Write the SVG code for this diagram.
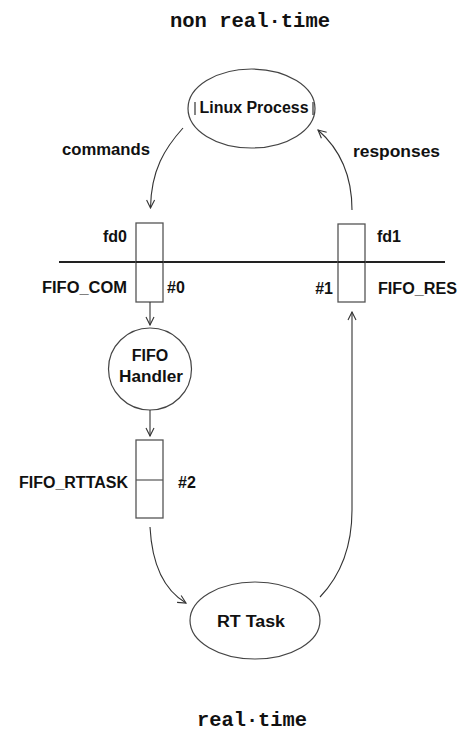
<svg xmlns="http://www.w3.org/2000/svg" width="462" height="731" viewBox="0 0 462 731">
<style>
.mono{font-family:"Liberation Mono","DejaVu Sans Mono",monospace;font-weight:bold;font-size:20px;fill:#111}
.lbl{font-family:"Liberation Sans",Arial,sans-serif;font-weight:bold;font-size:16px;fill:#111}
.node{fill:#fff;stroke:#444;stroke-width:1.2}
.box{fill:#fff;stroke:#555;stroke-width:1.3}
.conn{fill:none;stroke:#333;stroke-width:1.1}
</style>
<defs>
<marker id="arr" viewBox="0 0 10 10" refX="9" refY="5" markerWidth="10" markerHeight="10" markerUnits="userSpaceOnUse" orient="auto">
<path d="M1,1 L9,5 L1,9" fill="none" stroke="#333" stroke-width="1.1"/>
</marker>
</defs>
<rect width="462" height="731" fill="#fff"/>
<text class="mono" x="170" y="27" textLength="160" lengthAdjust="spacingAndGlyphs">non real·time</text>
<text class="mono" x="197" y="726" textLength="110" lengthAdjust="spacingAndGlyphs">real·time</text>

<g id="boundary">
<line x1="59" y1="262" x2="445" y2="262" stroke="#222" stroke-width="2"/>
</g>

<g id="linux-process">
<ellipse class="node" cx="251.5" cy="108.5" rx="63.5" ry="39.5"/>
<line x1="195" y1="102" x2="195" y2="115" stroke="#333" stroke-width="1.2"/>
<line x1="313" y1="102" x2="313" y2="115" stroke="#333" stroke-width="1.2"/>
<text class="lbl" x="254" y="113" text-anchor="middle" textLength="109" lengthAdjust="spacingAndGlyphs">Linux Process</text>
</g>

<g id="fifo-com">
<rect class="box" x="136" y="223" width="27" height="79"/>
<line x1="136" y1="262" x2="163" y2="262" stroke="#222" stroke-width="2"/>
<text class="lbl" x="127" y="242" text-anchor="end">fd0</text>
<text class="lbl" x="127" y="293" text-anchor="end" textLength="85" lengthAdjust="spacingAndGlyphs">FIFO_COM</text>
<text class="lbl" x="167" y="293">#0</text>
</g>

<g id="fifo-res">
<rect class="box" x="338" y="224" width="27" height="78"/>
<line x1="338" y1="262" x2="365" y2="262" stroke="#222" stroke-width="2"/>
<text class="lbl" x="377" y="242">fd1</text>
<text class="lbl" x="333" y="294" text-anchor="end">#1</text>
<text class="lbl" x="378" y="294" textLength="79" lengthAdjust="spacingAndGlyphs">FIFO_RES</text>
</g>

<g id="fifo-handler">
<ellipse class="node" cx="150" cy="369" rx="41.5" ry="41"/>
<text class="lbl" x="150" y="361" text-anchor="middle">FIFO</text>
<text class="lbl" x="151" y="382" text-anchor="middle" textLength="64" lengthAdjust="spacingAndGlyphs">Handler</text>
</g>

<g id="fifo-rttask">
<rect class="box" x="136" y="440" width="27" height="78"/>
<line x1="136" y1="480" x2="163" y2="480" stroke="#555" stroke-width="1.2"/>
<text class="lbl" x="128" y="488" text-anchor="end">FIFO_RTTASK</text>
<text class="lbl" x="178" y="488">#2</text>
</g>

<g id="rt-task">
<ellipse class="node" cx="255" cy="620.5" rx="65" ry="38.5"/>
<text class="lbl" x="251" y="627" text-anchor="middle" textLength="68" lengthAdjust="spacingAndGlyphs">RT Task</text>
</g>

<g id="connectors">
<path class="conn" d="M183,128 C165,148 151,170 150.5,208" marker-end="url(#arr)"/>
<path class="conn" d="M352,210 C352,176 341,150 318,130" marker-end="url(#arr)"/>
<path class="conn" d="M150,302 L150,325" marker-end="url(#arr)"/>
<path class="conn" d="M150,410 L150,436" marker-end="url(#arr)"/>
<path class="conn" d="M150,527 C152,565 164,590 186,603" marker-end="url(#arr)"/>
<path class="conn" d="M320,597 C341,575 352,545 352,510 L352,312" marker-end="url(#arr)"/>
</g>
<text class="lbl" x="62" y="155" textLength="88" lengthAdjust="spacingAndGlyphs">commands</text>
<text class="lbl" x="353" y="157" textLength="87" lengthAdjust="spacingAndGlyphs">responses</text>
</svg>
